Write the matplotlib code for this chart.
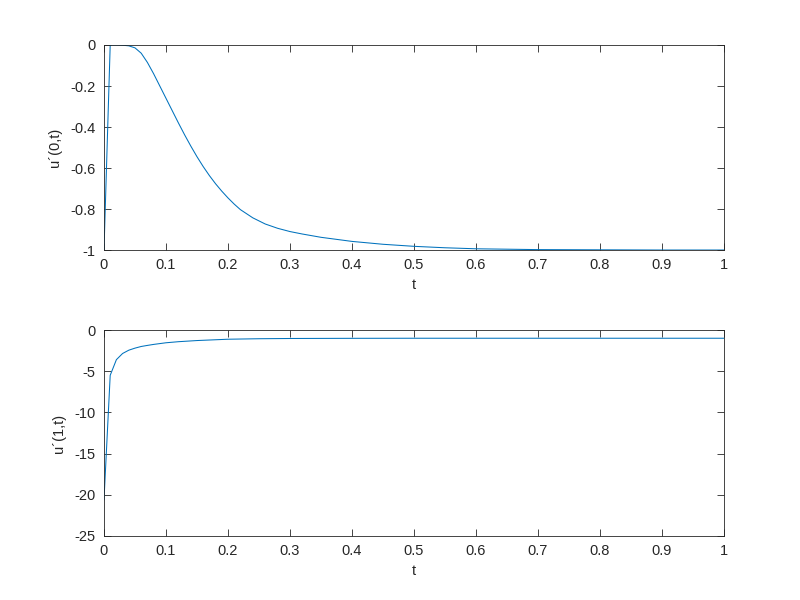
import matplotlib
matplotlib.use("Agg")
import matplotlib.pyplot as plt

# values
t_top = [0, 0.01, 0.02, 0.03, 0.04, 0.05, 0.06, 0.07, 0.08, 0.09, 0.10, 0.11,
         0.12, 0.13, 0.14, 0.15, 0.16, 0.17, 0.18, 0.19, 0.20, 0.21, 0.22,
         0.24, 0.26, 0.28, 0.30, 0.32, 0.35, 0.40, 0.45, 0.50, 0.55, 0.60,
         0.70, 0.80, 0.90, 1.0]
u0 = [-1, 0, 0, -0.001, -0.004, -0.014, -0.04, -0.085, -0.14, -0.20, -0.26,
      -0.32, -0.38, -0.438, -0.493, -0.545, -0.593, -0.637, -0.677, -0.713,
      -0.746, -0.776, -0.803, -0.843, -0.873, -0.894, -0.91, -0.922, -0.938,
      -0.958, -0.972, -0.982, -0.989, -0.994, -0.998, -0.999, -1.0, -1.0]

t_bot = [0, 0.01, 0.02, 0.03, 0.04, 0.05, 0.06, 0.07, 0.08, 0.10, 0.12, 0.15,
         0.20, 0.25, 0.30, 0.40, 0.50, 0.60, 0.70, 0.80, 0.90, 1.0]
u1 = [-20.6, -5.5, -3.6, -2.85, -2.45, -2.2, -2.0, -1.87, -1.75, -1.55, -1.42,
      -1.28, -1.12, -1.06, -1.03, -1.01, -1.0, -1.0, -1.0, -1.0, -1.0, -1.0]

xticks = [0, 0.1, 0.2, 0.3, 0.4, 0.5, 0.6, 0.7, 0.8, 0.9, 1]
xticklabels = ["0", "0.1", "0.2", "0.3", "0.4", "0.5", "0.6", "0.7", "0.8", "0.9", "1"]

plt.rcParams['font.family'] = ['Liberation Sans', 'DejaVu Sans']
plt.rcParams['font.size'] = 10.5

fig = plt.figure(figsize=(8, 6), dpi=100)
ax1 = fig.add_axes([0.13, 0.5833, 0.775, 0.3417])
ax2 = fig.add_axes([0.13, 0.1067, 0.775, 0.3433])

edge = '#262626'
for ax in (ax1, ax2):
    ax.set_xlim(0, 1)
    ax.set_xticks(xticks)
    ax.set_xticklabels(xticklabels)
    ax.tick_params(direction='in', top=True, right=True, length=5, width=0.6,
                   colors=edge, labelcolor='#262626', pad=6)
    for s in ax.spines.values():
        s.set_color(edge)
        s.set_linewidth(0.6)
    ax.set_xlabel('t', color='#262626', labelpad=4)

ax1.plot(t_top, u0, color='#0072BD', linewidth=0.75)
ax1.set_ylim(-1, 0)
ax1.set_yticks([-1, -0.8, -0.6, -0.4, -0.2, 0])
ax1.set_yticklabels(['-1', '-0.8', '-0.6', '-0.4', '-0.2', '0'])
ax1.set_ylabel('u´(0,t)', color='#262626', labelpad=6)

ax2.plot(t_bot, u1, color='#0072BD', linewidth=0.75)
ax2.set_ylim(-25, 0)
ax2.set_yticks([-25, -20, -15, -10, -5, 0])
ax2.set_yticklabels(['-25', '-20', '-15', '-10', '-5', '0'])
ax2.set_ylabel('u´(1,t)', color='#262626', labelpad=6)

fig.savefig('out.png', dpi=100)
plt.close(fig)
